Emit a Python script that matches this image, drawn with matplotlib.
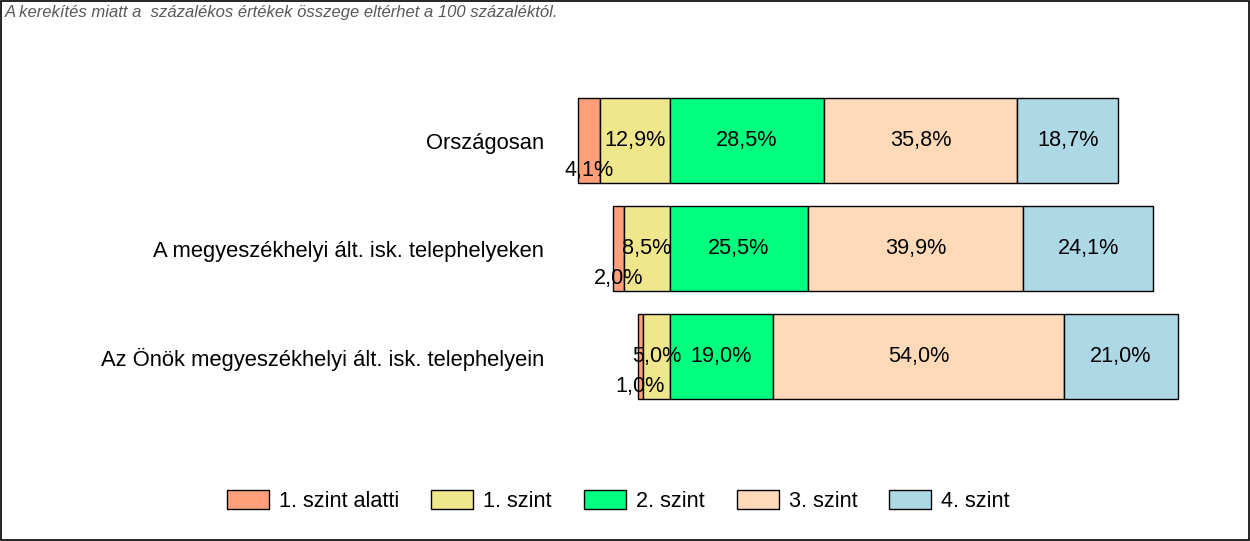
import matplotlib.pyplot as plt
from matplotlib.patches import Rectangle

# data
categories = ["Országosan",
              "A megyeszékhelyi ált. isk. telephelyeken",
              "Az Önök megyeszékhelyi ált. isk. telephelyein"]
levels = ["1. szint alatti", "1. szint", "2. szint", "3. szint", "4. szint"]
below1 = [4.1, 2.0, 1.0]
lvl1 = [12.9, 8.5, 5.0]
lvl2 = [28.5, 25.5, 19.0]
lvl3 = [35.8, 39.9, 54.0]
lvl4 = [18.7, 24.1, 21.0]
colors = ["#FFA07A", "#F0E68C", "#00FF7F", "#FFDAB9", "#ADD8E6"]
note = "A kerekítés miatt a  százalékos értékek összege eltérhet a 100 százaléktól."

plt.rcParams['font.family'] = ['Liberation Sans', 'DejaVu Sans']
FS = 15.6

fig = plt.figure(figsize=(12.5, 5.41), dpi=100)
ax = fig.add_axes([0.44096, 0.1813, 0.52704, 0.7187])

y = list(range(len(categories)))
h = 0.79

def fmt(v):
    return f"{v:.1f}%".replace(".", ",")

# negative side: levels below 2. szint end at zero
left1 = [-v for v in lvl1]
left0 = [-(a + b) for a, b in zip(below1, lvl1)]
left3 = list(lvl2)
left4 = [a + b for a, b in zip(lvl2, lvl3)]
series = [(below1, left0), (lvl1, left1), (lvl2, [0] * 3), (lvl3, left3), (lvl4, left4)]

for k, (vals, lefts) in enumerate(series):
    ax.barh(y, vals, left=lefts, height=h, color=colors[k], edgecolor="black", linewidth=1)
    for i, (v, l) in enumerate(zip(vals, lefts)):
        dy = 0.28 if k == 0 else 0
        ax.text(l + v / 2, i + dy, fmt(v), ha="center", va="center", fontsize=FS)

ax.set_xlim(-22, 100)
ax.set_ylim(2.8, -0.8)
ax.set_yticks(y)
ax.set_yticklabels(categories, fontsize=15.8)
ax.tick_params(axis="y", length=0, pad=5)
ax.set_xticks([])
for s in ax.spines.values():
    s.set_visible(False)

handles = [Rectangle((0, 0), 1, 1, facecolor=c, edgecolor="black", linewidth=1) for c in colors]
fig.legend(handles, levels, loc="center", bbox_to_anchor=(0.4948, 0.074), ncol=5,
           frameon=False, fontsize=FS, handlelength=1.94, handleheight=0.93,
           handletextpad=0.46, columnspacing=1.48)

fig.text(0.004, 0.976, note, fontsize=12, style="italic", color="#595959", ha="left", va="center")

fig.patches.append(Rectangle((0.0005, 0.001), 0.999, 0.998, transform=fig.transFigure,
                             fill=False, edgecolor="black", linewidth=1.2))

fig.savefig("out.png", dpi=100)
